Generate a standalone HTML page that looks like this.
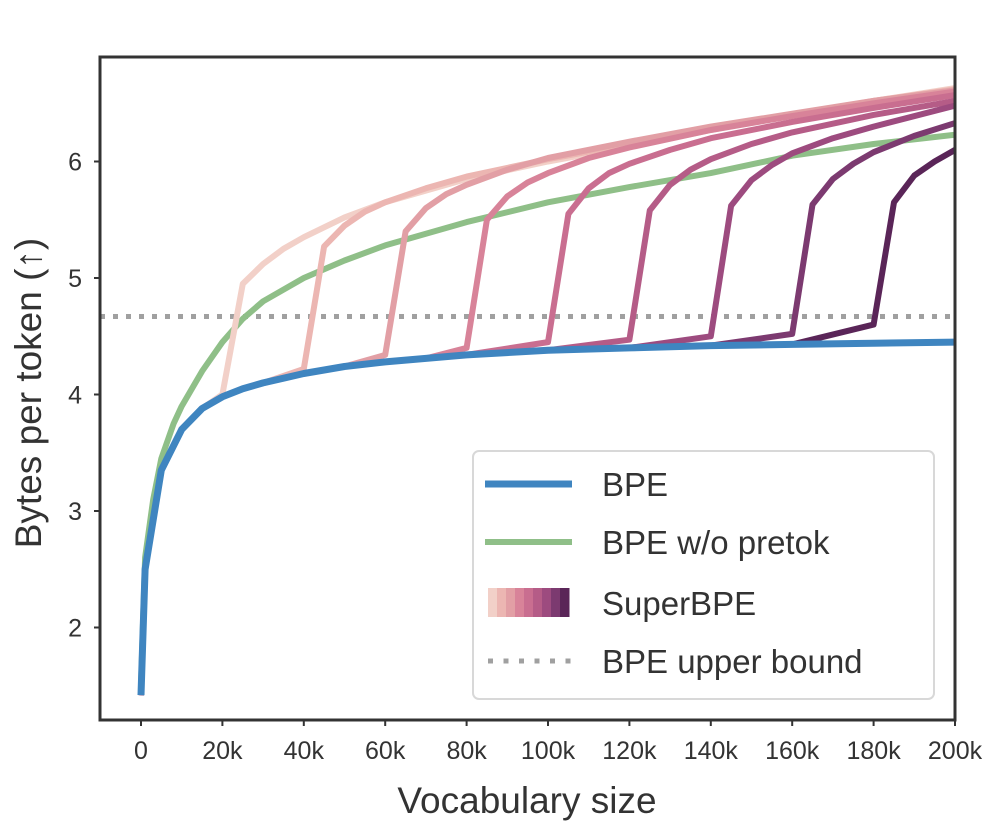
<!DOCTYPE html>
<html><head><meta charset="utf-8"><style>
html,body{margin:0;padding:0;background:#fff;}
svg{display:block;font-family:"Liberation Sans","DejaVu Sans",sans-serif;}
</style></head><body>
<svg id="chart" width="995" height="830" viewBox="0 0 995 830">
<g id="plot"></g>
</svg>
<script>
const xTicks=[0,20,40,60,80,100,120,140,160,180,200];
const xTickLabels=["0","20k","40k","60k","80k","100k","120k","140k","160k","180k","200k"];
const yTicks=[2,3,4,5,6];
const yTickLabels=["2","3","4","5","6"];
const bpeX=[0,1,5,10,15,20,25,30,40,50,60,70,80,100,120,140,160,180,200];
const bpeY=[1.42,2.5,3.35,3.7,3.88,3.98,4.05,4.1,4.18,4.24,4.28,4.31,4.34,4.38,4.4,4.42,4.43,4.44,4.45];
const greenX=[0,1,3,5,8,10,15,20,25,30,40,50,60,70,80,100,120,140,160,180,200];
const greenY=[1.5,2.6,3.1,3.45,3.75,3.9,4.2,4.45,4.65,4.8,5.0,5.15,5.28,5.38,5.48,5.65,5.78,5.9,6.05,6.15,6.23];
const upperBound=4.67;
const superStart=[20,40,60,80,100,120,140,160,180];
const superPre=[4.0,4.22,4.34,4.4,4.45,4.47,4.5,4.52,4.6];
const superPostX=[
[25,30,35,40,50,60,70,80,100,120,140,160,180,200],
[45,50,55,60,70,80,100,120,140,160,180,200],
[65,70,75,80,90,100,120,140,160,180,200],
[85,90,95,100,110,120,140,160,180,200],
[105,110,115,120,130,140,160,180,200],
[125,130,135,140,150,160,180,200],
[145,150,155,160,170,180,200],
[165,170,175,180,190,200],
[185,190,195,200]];
const superPostY=[
[4.95,5.12,5.25,5.35,5.52,5.65,5.75,5.85,6.0,6.13,6.27,6.4,6.52,6.63],
[5.27,5.45,5.57,5.65,5.77,5.87,6.02,6.15,6.28,6.4,6.52,6.62],
[5.4,5.6,5.72,5.8,5.93,6.03,6.17,6.3,6.41,6.52,6.61],
[5.5,5.7,5.82,5.9,6.03,6.12,6.27,6.39,6.5,6.6],
[5.55,5.77,5.9,5.98,6.1,6.2,6.34,6.46,6.57],
[5.58,5.8,5.93,6.02,6.15,6.25,6.4,6.52],
[5.62,5.84,5.97,6.07,6.2,6.3,6.48],
[5.63,5.85,5.98,6.08,6.22,6.33],
[5.65,5.88,6.0,6.1]];
const superColors=["#f2d0c8","#ecb6b2","#e29fa5","#d88399","#c96e90","#b55c87","#9d4b7f","#7c3a70","#5a2558"];

const L=100,R=955,T=57,B=720;
const sx=v=>141+v*(955-141)/200;
const sy=v=>744-(v-1)*116.5;
const NS="http://www.w3.org/2000/svg";
const svg=document.getElementById('chart');
const plot=document.getElementById('plot');
function mk(tag,at,parent){const e=document.createElementNS(NS,tag);for(const k in at)e.setAttribute(k,at[k]);(parent||svg).appendChild(e);return e;}
function pathD(xs,ys){return xs.map((x,i)=>(i?'L':'M')+sx(x).toFixed(1)+','+sy(ys[i]).toFixed(1)).join(' ');}

const cp=mk('clipPath',{id:'clip'});mk('rect',{x:L,y:T,width:R-L,height:B-T},cp);
plot.setAttribute('clip-path','url(#clip)');

let ub=mk('line',{x1:L,x2:R,y1:sy(upperBound),y2:sy(upperBound),stroke:'#a0a0a0','stroke-width':5,'stroke-dasharray':'5 8'},plot);


let g=mk('path',{d:pathD(greenX,greenY),fill:'none',stroke:'#8fbf88','stroke-width':6,'stroke-linejoin':'round'},plot);


superStart.forEach((t,i)=>{
  const xs=[],ys=[];
  bpeX.forEach((x,j)=>{if(x<t){xs.push(x);ys.push(bpeY[j]);}});
  xs.push(t);ys.push(superPre[i]);
  superPostX[i].forEach((x,j)=>{xs.push(x);ys.push(superPostY[i][j]);});
  const p=mk('path',{d:pathD(xs,ys),fill:'none',stroke:superColors[i],'stroke-width':6,'stroke-linejoin':'round'},plot);
  
  
});
let b=mk('path',{d:pathD(bpeX,bpeY),fill:'none',stroke:'#3f85c0','stroke-width':7,'stroke-linejoin':'round'},plot);



let fr=mk('rect',{x:L,y:T,width:R-L,height:B-T,fill:'none',stroke:'#333','stroke-width':3});



xTicks.forEach((v,i)=>{
  mk('line',{x1:sx(v),x2:sx(v),y1:B,y2:B+6,stroke:'#333','stroke-width':2});
  const t=mk('text',{x:sx(v),y:759,'text-anchor':'middle','font-size':25,fill:'#333'});
  t.textContent=xTickLabels[i];
  
  
});
yTicks.forEach((v,i)=>{
  mk('line',{x1:L-6,x2:L,y1:sy(v),y2:sy(v),stroke:'#333','stroke-width':2});
  const t=mk('text',{x:82,y:sy(v)+9,'text-anchor':'end','font-size':25,fill:'#333'});
  t.textContent=yTickLabels[i];
  
  
});

let xl=mk('text',{x:527,y:813,'text-anchor':'middle','font-size':37,fill:'#333'});
xl.textContent='Vocabulary size';


let yl=mk('text',{x:0,y:0,'text-anchor':'middle','font-size':37,fill:'#333',transform:'translate(41,393) rotate(-90)'});
yl.textContent='Bytes per token (↑)';


const lg=mk('g',{});


mk('rect',{x:473,y:451,width:461,height:248,rx:6,fill:'#fff',stroke:'#d8d8d8','stroke-width':2},lg);
const rows=[484,542,603,661];
mk('line',{x1:485,x2:572,y1:rows[0],y2:rows[0],stroke:'#3f85c0','stroke-width':7},lg);
mk('line',{x1:485,x2:572,y1:rows[1],y2:rows[1],stroke:'#8fbf88','stroke-width':6},lg);
superColors.forEach((c,i)=>{mk('rect',{x:488+i*9,y:588,width:9.5,height:29,fill:c},lg);});
mk('line',{x1:488,x2:572,y1:rows[3],y2:rows[3],stroke:'#a0a0a0','stroke-width':5,'stroke-dasharray':'5 10.5'},lg);
const names=['BPE','BPE w/o pretok','SuperBPE','BPE upper bound'];
names.forEach((n,i)=>{
  const t=mk('text',{x:602,y:rows[i]+12,'font-size':33,fill:'#333'},lg);
  t.textContent=n;
  
  
});
</script>
</body></html>
